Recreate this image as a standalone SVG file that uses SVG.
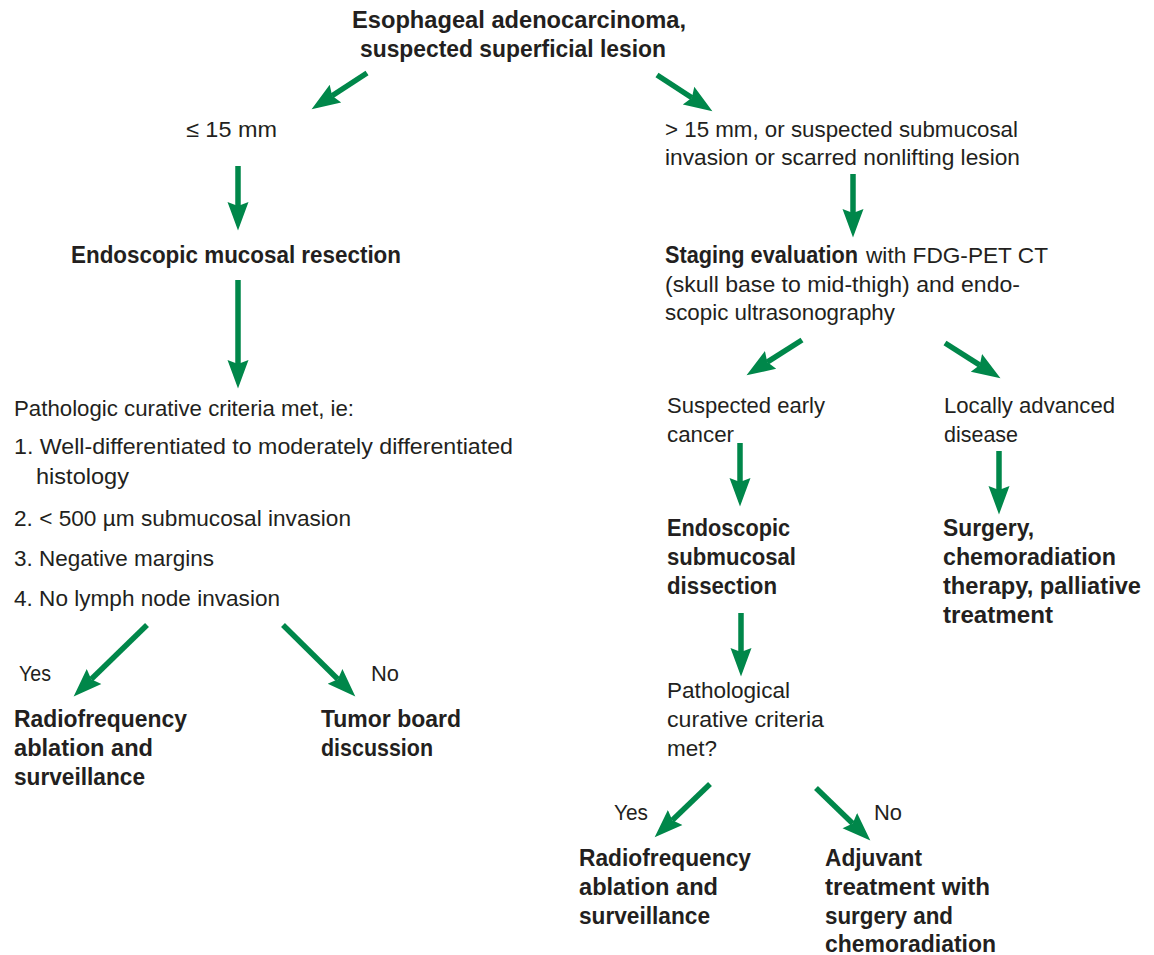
<svg xmlns="http://www.w3.org/2000/svg" width="1154" height="955" viewBox="0 0 1154 955">
<style>
text{font-family:"Liberation Sans",Arial,sans-serif;font-size:22.5px;fill:#231f20}
.b{font-weight:bold;font-size:23px}
.t{font-size:24px;font-weight:bold}
.c line{stroke:#00874a;stroke-width:5.5;marker-end:url(#ah)}
</style>
<defs>
<marker id="ah" markerUnits="userSpaceOnUse" markerWidth="31" markerHeight="24" viewBox="0 -12 31 24" refX="4" refY="0" orient="auto">
<path d="M0,-10.5 L28.5,0 L0,10.5 L4,0 Z" fill="#00874a"/>
</marker>
</defs>
<rect width="1154" height="955" fill="#fff"/>
<g id="n-title">
<text class="t" x="352" y="28" textLength="334" lengthAdjust="spacingAndGlyphs">Esophageal adenocarcinoma,</text>
<text class="t" x="360" y="57" textLength="306" lengthAdjust="spacingAndGlyphs">suspected superficial lesion</text>
</g>
<g id="n-small"><text x="186" y="137" textLength="91" lengthAdjust="spacingAndGlyphs">≤ 15 mm</text></g>
<g id="n-large">
<text x="665" y="137" textLength="353" lengthAdjust="spacingAndGlyphs">&gt; 15 mm, or suspected submucosal</text>
<text x="665" y="165" textLength="355" lengthAdjust="spacingAndGlyphs">invasion or scarred nonlifting lesion</text>
</g>
<g id="n-emr"><text class="b" x="71" y="263" textLength="330" lengthAdjust="spacingAndGlyphs">Endoscopic mucosal resection</text></g>
<g id="n-staging">
<text class="b" x="665" y="263" textLength="193" lengthAdjust="spacingAndGlyphs">Staging evaluation</text>
<text x="866" y="263" textLength="182" lengthAdjust="spacingAndGlyphs">with FDG-PET CT</text>
<text x="665" y="292" textLength="355" lengthAdjust="spacingAndGlyphs">(skull base to mid-thigh) and endo-</text>
<text x="665" y="320" textLength="230" lengthAdjust="spacingAndGlyphs">scopic ultrasonography</text>
</g>
<g id="n-criteria">
<text x="14" y="416" textLength="340" lengthAdjust="spacingAndGlyphs">Pathologic curative criteria met, ie:</text>
<text x="14" y="454" textLength="499" lengthAdjust="spacingAndGlyphs">1. Well-differentiated to moderately differentiated</text>
<text x="36" y="484" textLength="93" lengthAdjust="spacingAndGlyphs">histology</text>
<text x="14" y="526" textLength="337" lengthAdjust="spacingAndGlyphs">2. &lt; 500 µm submucosal invasion</text>
<text x="14" y="566" textLength="200" lengthAdjust="spacingAndGlyphs">3. Negative margins</text>
<text x="14" y="606" textLength="266" lengthAdjust="spacingAndGlyphs">4. No lymph node invasion</text>
</g>
<g id="l-yes1"><text x="19" y="681" textLength="32" lengthAdjust="spacingAndGlyphs">Yes</text></g>
<g id="l-no1"><text x="371" y="681" textLength="28" lengthAdjust="spacingAndGlyphs">No</text></g>
<g id="n-rfa1">
<text class="b" x="14" y="727" textLength="173" lengthAdjust="spacingAndGlyphs">Radiofrequency</text>
<text class="b" x="14" y="756" textLength="139" lengthAdjust="spacingAndGlyphs">ablation and</text>
<text class="b" x="14" y="785" textLength="131" lengthAdjust="spacingAndGlyphs">surveillance</text>
</g>
<g id="n-tumor">
<text class="b" x="321" y="727" textLength="140" lengthAdjust="spacingAndGlyphs">Tumor board</text>
<text class="b" x="321" y="756" textLength="112" lengthAdjust="spacingAndGlyphs">discussion</text>
</g>
<g id="n-early">
<text x="667" y="413" textLength="158" lengthAdjust="spacingAndGlyphs">Suspected early</text>
<text x="667" y="442" textLength="67" lengthAdjust="spacingAndGlyphs">cancer</text>
</g>
<g id="n-advanced">
<text x="944" y="413" textLength="171" lengthAdjust="spacingAndGlyphs">Locally advanced</text>
<text x="944" y="442" textLength="74" lengthAdjust="spacingAndGlyphs">disease</text>
</g>
<g id="n-esd">
<text class="b" x="667" y="536" textLength="123" lengthAdjust="spacingAndGlyphs">Endoscopic</text>
<text class="b" x="667" y="565" textLength="129" lengthAdjust="spacingAndGlyphs">submucosal</text>
<text class="b" x="667" y="594" textLength="110" lengthAdjust="spacingAndGlyphs">dissection</text>
</g>
<g id="n-surgery">
<text class="b" x="943" y="536" textLength="91" lengthAdjust="spacingAndGlyphs">Surgery,</text>
<text class="b" x="943" y="565" textLength="173" lengthAdjust="spacingAndGlyphs">chemoradiation</text>
<text class="b" x="943" y="594" textLength="198" lengthAdjust="spacingAndGlyphs">therapy, palliative</text>
<text class="b" x="943" y="623" textLength="110" lengthAdjust="spacingAndGlyphs">treatment</text>
</g>
<g id="n-pathq">
<text x="667" y="698" textLength="123" lengthAdjust="spacingAndGlyphs">Pathological</text>
<text x="667" y="727" textLength="157" lengthAdjust="spacingAndGlyphs">curative criteria</text>
<text x="667" y="756" textLength="50" lengthAdjust="spacingAndGlyphs">met?</text>
</g>
<g id="l-yes2"><text x="614" y="820" textLength="34" lengthAdjust="spacingAndGlyphs">Yes</text></g>
<g id="l-no2"><text x="874" y="820" textLength="28" lengthAdjust="spacingAndGlyphs">No</text></g>
<g id="n-rfa2">
<text class="b" x="579" y="866" textLength="172" lengthAdjust="spacingAndGlyphs">Radiofrequency</text>
<text class="b" x="579" y="895" textLength="139" lengthAdjust="spacingAndGlyphs">ablation and</text>
<text class="b" x="579" y="924" textLength="131" lengthAdjust="spacingAndGlyphs">surveillance</text>
</g>
<g id="n-adjuvant">
<text class="b" x="825" y="866" textLength="97" lengthAdjust="spacingAndGlyphs">Adjuvant</text>
<text class="b" x="825" y="895" textLength="165" lengthAdjust="spacingAndGlyphs">treatment with</text>
<text class="b" x="825" y="924" textLength="128" lengthAdjust="spacingAndGlyphs">surgery and</text>
<text class="b" x="825" y="952" textLength="171" lengthAdjust="spacingAndGlyphs">chemoradiation</text>
</g>
<g id="connectors" class="c">
<line x1="367" y1="73" x2="332.1" y2="95.8"/>
<line x1="657" y1="75" x2="691.9" y2="97.8"/>
<line x1="238" y1="166" x2="238" y2="206"/>
<line x1="238" y1="280" x2="238" y2="364"/>
<line x1="853" y1="174" x2="853" y2="213"/>
<line x1="802" y1="340" x2="767.2" y2="362.1"/>
<line x1="945" y1="343" x2="979.8" y2="365.1"/>
<line x1="740" y1="443" x2="740" y2="482"/>
<line x1="999" y1="451" x2="999" y2="490"/>
<line x1="741" y1="613" x2="741" y2="652"/>
<line x1="710" y1="784" x2="672.3" y2="820.3"/>
<line x1="816" y1="788" x2="852.7" y2="823.4"/>
<line x1="147" y1="625" x2="91.2" y2="679.3"/>
<line x1="283" y1="625" x2="337.9" y2="679.2"/>
</g>
</svg>
